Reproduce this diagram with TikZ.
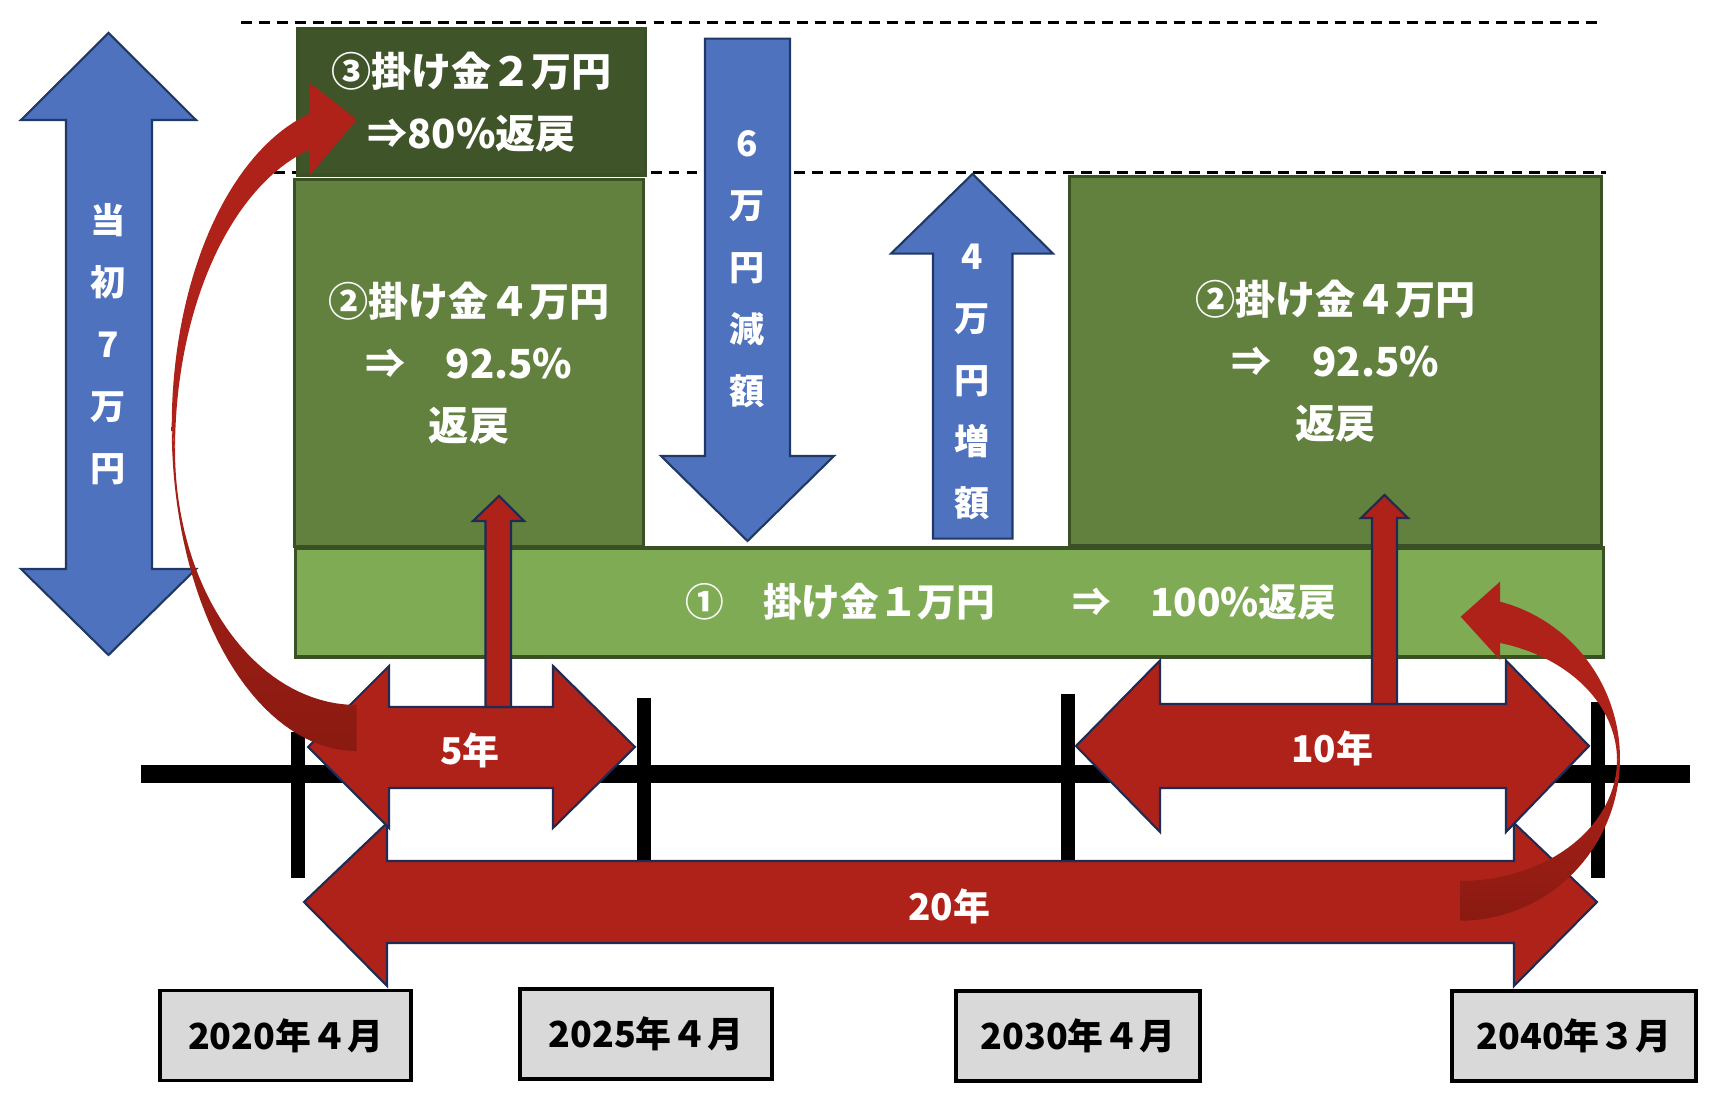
\documentclass[tikz,border=0pt]{standalone}
\usepackage{fontspec}
\setmainfont{Noto Sans CJK JP}
\usepackage{tikz}

\definecolor{arrblue}{HTML}{4F72BE}
\definecolor{blueedge}{HTML}{1F3864}
\definecolor{arrred}{HTML}{AE2219}
\definecolor{arrdark}{HTML}{8A1A11}
\definecolor{rededge}{HTML}{1F2B52}
\definecolor{greenC}{HTML}{3F5428}
\definecolor{greenB}{HTML}{62803E}
\definecolor{greenA}{HTML}{7FAB55}
\definecolor{greenedge}{HTML}{3A5125}
\definecolor{dategray}{HTML}{D9D9D9}

\tikzstyle{box}      = [rectangle, draw=greenedge, line width=0.9pt, text=white,
                        align=center, inner sep=0pt,
                        font=\fontsize{11.4}{17.6}\selectfont\bfseries]
\tikzstyle{datebox}  = [rectangle, draw=black, line width=0.9pt, fill=dategray,
                        minimum height=0.9cm, inner sep=0pt,
                        font=\fontsize{10.2}{12}\selectfont\bfseries]
\tikzstyle{bluearr}  = [fill=arrblue, draw=blueedge, line width=0.6pt]
\tikzstyle{redarr}   = [fill=arrred, draw=rededge, line width=0.6pt]
\tikzstyle{vtext}    = [text=white, align=center, inner sep=0pt,
                        font=\fontsize{10}{17.6}\selectfont\bfseries]
\tikzstyle{arrlabel} = [text=white, inner sep=0pt,
                        font=\fontsize{10.5}{12}\selectfont\bfseries]
\tikzstyle{guideline}= [line width=0.85pt, dash pattern=on 3.1pt off 2pt]
\tikzstyle{tickmark} = [line width=0.14cm]

\begin{document}
\begin{tikzpicture}[x=0.01cm, y=-0.01cm]
  \useasboundingbox (0,0) rectangle (1714,1104);

  %% Guide lines
  \draw[guideline] (241,23) -- (1602,23);
  \draw[guideline] (274,173) -- (1606,173);

  %% Time axis
  \draw[line width=0.18cm] (141,774) -- (1690,774);
  \draw[tickmark] (298,732) -- (298,878);
  \draw[tickmark] (644,698) -- (644,860);
  \draw[tickmark] (1068,694) -- (1068,860);
  \draw[tickmark] (1598,702) -- (1598,878);

  %% Contribution blocks
  \node[box, fill=greenC, minimum width=3.47cm, minimum height=1.464cm]
      (b3) at (471.5,101.8) {③掛け金２万円\\⇒80\%返戻};
  \node[box, fill=greenB, minimum width=3.48cm, minimum height=3.66cm]
      (b2l) at (469,363) {②掛け金４万円\\⇒　92.5\%\\返戻};
  \node[box, fill=greenB, minimum width=5.31cm, minimum height=3.68cm]
      (b2r) at (1335.5,361) {②掛け金４万円\\⇒　92.5\%\\返戻};
  \node[box, fill=greenA, minimum width=13.07cm, minimum height=1.09cm]
      (b1) at (949.5,602.5) {};
  \node[box, draw=none, font=\fontsize{11}{14}\selectfont\bfseries]
      (b1txt) at (1011,602) {①　掛け金１万円　　⇒　100\%返戻};

  %% Blue amount arrows
  \draw[bluearr] (108.5,33) -- (196,120) -- (152,120) -- (152,569) -- (196,569)
      -- (108.5,655) -- (21,569) -- (66,569) -- (66,120) -- (21,120) -- cycle;
  \draw[bluearr] (705,38.6) -- (790,38.6) -- (790,456) -- (834,456)
      -- (747.5,541) -- (661,456) -- (705,456) -- cycle;
  \draw[bluearr] (933,538.6) -- (933,253.6) -- (891,253.6) -- (972.5,174)
      -- (1053,253.6) -- (1012.5,253.6) -- (1012.5,538.6) -- cycle;
  \node[vtext] (initial) at (108.5,344) {当\\初\\7\\万\\円};
  \node[vtext] (minus6) at (747.5,269) {6\\万\\円\\減\\額};
  \node[vtext] (plus4) at (972.5,382) {4\\万\\円\\増\\額};

  %% Period arrows
  \draw[redarr] (304,902) -- (387,823) -- (387,861) -- (1514,861) -- (1514,823)
      -- (1597,902) -- (1514,986) -- (1514,943) -- (387,943) -- (387,986) -- cycle;
  \draw[redarr] (308,747) -- (389,666) -- (389,707) -- (553,707) -- (553,666)
      -- (635,747) -- (553,828) -- (553,788) -- (389,788) -- (389,828) -- cycle;
  \draw[redarr] (1076,746) -- (1160,660.5) -- (1160,704) -- (1506,704) -- (1506,660.5)
      -- (1589,746) -- (1506,832) -- (1506,788) -- (1160,788) -- (1160,832) -- cycle;
  \node[arrlabel] (y5) at (470,750) {5年};
  \node[arrlabel] (y10) at (1332,748) {10年};
  \node[arrlabel] (y20) at (949,906) {20年};

  %% Small up arrows into block 2
  \draw[redarr] (485.5,707) -- (485.5,521) -- (473,521) -- (499,496) -- (524,521)
      -- (511,521) -- (511,707) -- cycle;
  \draw[redarr] (1372,704) -- (1372,518) -- (1361,518) -- (1384.5,495) -- (1408,518)
      -- (1397,518) -- (1397,704) -- cycle;

  %% Curved arrow, left (start -> block 3)
  \shade[top color=arrred, bottom color=arrdark]
      plot[domain=0:-90, samples=40, variable=\t] ({356.7-185*cos(\t)}, {427-324*sin(\t)})
      -- plot[domain=-90:0, samples=40, variable=\t] ({356.7-181.7*cos(\t)}, {450-255*sin(\t)})
      -- cycle;
  \fill[arrred]
      plot[domain=75.9:0, samples=40, variable=\t] ({356.7-185*cos(\t)}, {427-324*sin(\t)})
      -- plot[domain=0:75, samples=40, variable=\t] ({356.7-181.7*cos(\t)}, {450-311*sin(\t)})
      -- cycle;
  \fill[arrred] (310,83) -- (356.7,119.7) -- (310,175) -- cycle;

  %% Curved arrow, right (end -> block 1)
  \shade[top color=arrred, bottom color=arrdark]
      plot[domain=0:-90, samples=40, variable=\t] ({1460+160*cos(\t)}, {758.6-162.1*sin(\t)})
      -- plot[domain=-90:0, samples=40, variable=\t] ({1460+157*cos(\t)}, {760-121*sin(\t)})
      -- cycle;
  \fill[arrred]
      plot[domain=75.5:0, samples=40, variable=\t] ({1460+160*cos(\t)}, {758.6-162.1*sin(\t)})
      -- plot[domain=0:75.25, samples=40, variable=\t] ({1460+157*cos(\t)}, {760-121*sin(\t)})
      -- cycle;
  \fill[arrred] (1500,581.7) -- (1460.7,616.7) -- (1500,660) -- cycle;

  %% Dates
  \node[datebox, minimum width=2.51cm] (d2020) at (285.5,1035.5) {2020年４月};
  \node[datebox, minimum width=2.52cm] (d2025) at (646,1034) {2025年４月};
  \node[datebox, minimum width=2.44cm] (d2030) at (1078,1036) {2030年４月};
  \node[datebox, minimum width=2.44cm] (d2040) at (1574,1036) {2040年３月};

\end{tikzpicture}
\end{document}
